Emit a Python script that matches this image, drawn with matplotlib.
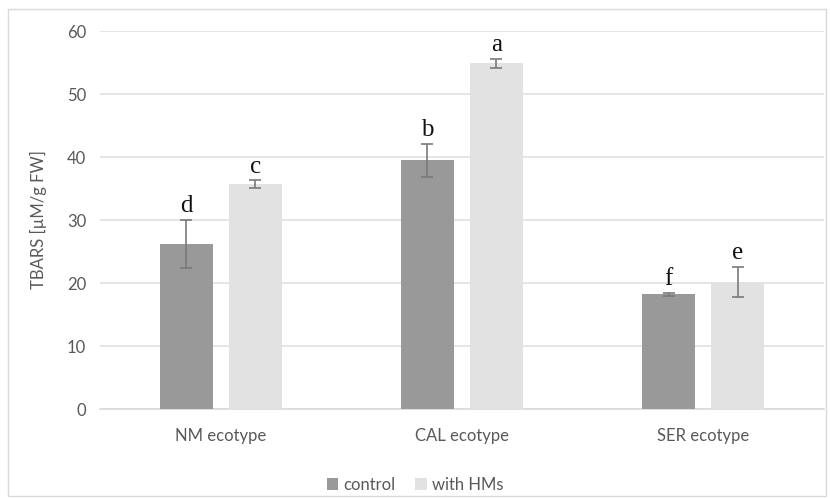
import matplotlib
matplotlib.use('Agg')
import matplotlib.pyplot as plt
import numpy as np

categories = ['NM ecotype', 'CAL ecotype', 'SER ecotype']
control = [26.2, 39.5, 18.2]
control_err = [3.8, 2.6, 0.25]
hms = [35.7, 54.9, 20.2]
hms_err = [0.6, 0.7, 2.4]
control_letters = ['d', 'b', 'f']
hms_letters = ['c', 'a', 'e']

fig = plt.figure(figsize=(8.3, 4.98), dpi=100)
ax = fig.add_axes([0.1205, 0.1787, 0.872, 0.759])

x = np.arange(len(categories))
w = 0.22
off = 0.143
ek = dict(ecolor='#7a7a7a', elinewidth=1.2, capsize=4, capthick=1.2)
b1 = ax.bar(x - off, control, w, color='#999999', yerr=control_err, error_kw=ek, label='control', zorder=3)
b2 = ax.bar(x + off, hms, w, color='#e2e2e2', yerr=hms_err, error_kw=ek, label='with HMs', zorder=3)

for xi, v, e, t in zip(x - off, control, control_err, control_letters):
    ax.annotate(t, (xi, v + e), xytext=(0, 2), textcoords='offset points', ha='center', va='bottom',
                fontsize=18, family='Liberation Serif', color='#111111')
for xi, v, e, t in zip(x + off, hms, hms_err, hms_letters):
    ax.annotate(t, (xi, v + e), xytext=(0, 2), textcoords='offset points', ha='center', va='bottom',
                fontsize=18, family='Liberation Serif', color='#111111')

ax.set_xlim(-0.5, 2.5)
ax.set_ylim(0, 60)
ax.set_yticks(range(0, 61, 10))
ax.set_xticks(x)
ax.set_xticklabels(categories)
ax.yaxis.grid(True, color='#e0e0e0', linewidth=1.2, zorder=0)
ax.set_axisbelow(True)
for s in ['top', 'right', 'left']:
    ax.spines[s].set_visible(False)
ax.spines['bottom'].set_color('#d9d9d9')
ax.spines['bottom'].set_linewidth(1.2)
ax.tick_params(axis='y', length=0, labelsize=12, labelcolor='#595959', pad=10)
ax.tick_params(axis='x', length=0, labelsize=12, labelcolor='#595959', pad=14)
for lab in ax.get_xticklabels() + ax.get_yticklabels():
    lab.set_family('Lato')
ax.set_ylabel('TBARS [µM/g FW]', fontsize=12, color='#595959', family='Lato', labelpad=14)

leg = fig.legend(handles=[b1, b2], labels=['control', 'with HMs'], loc='center', bbox_to_anchor=(0.5, 0.026),
                 ncol=2, frameon=False, handlelength=0.7, handleheight=0.7, handletextpad=0.3,
                 columnspacing=1.2, prop={'family': 'Lato', 'size': 12})
for t in leg.get_texts():
    t.set_color('#595959')

fig.patches.append(plt.Rectangle((0.01, 0.004), 0.985, 0.978, transform=fig.transFigure,
                                 fill=False, edgecolor='#d9d9d9', linewidth=1))

fig.savefig('out.png', dpi=100)
